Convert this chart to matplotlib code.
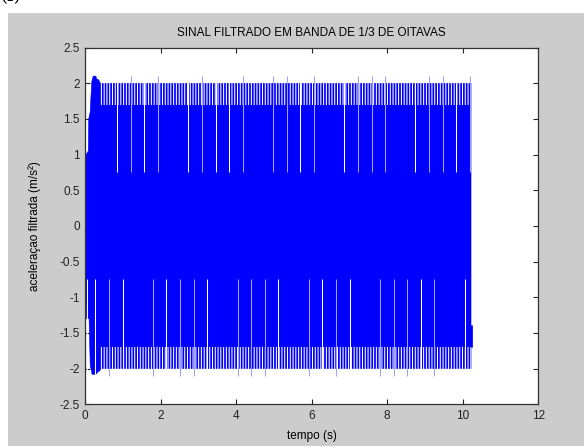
import numpy as np
import matplotlib
matplotlib.use('Agg')
import matplotlib.pyplot as plt
from matplotlib.patches import Rectangle

# ---------------- data ----------------
# upper / lower envelope of the filtered signal (time s, acceleration m/s²)
up_t = [0.00, 0.02, 0.08, 0.09, 0.13, 0.17, 0.21, 0.28, 0.30, 0.35, 0.40, 10.22, 10.22, 10.265]
up_v = [0.35, 1.00, 1.05, 1.50, 1.60, 2.02, 2.10, 2.10, 2.06, 2.05, 2.00, 2.00, -1.40, -1.40]
low_t = [0.00, 0.03, 0.10, 0.13, 0.18, 0.28, 0.33, 0.38, 0.42, 10.22, 10.22, 10.265]
low_v = [-0.75, -1.30, -1.30, -1.95, -2.08, -2.08, -2.05, -2.03, -2.00, -2.00, -1.70, -1.70]

# band where the peaks only partly reach the envelope (comb of peaks)
comb_t = [0.40, 10.22]
comb_top = [1.70, 2.00]
comb_bot = [-2.00, -1.70]

# columns where the positive peaks are missing (signal reaches only 0.75)
top_gap_white = [0.848, 1.563, 2.729, 3.455, 3.808, 5.697, 6.863, 8.744, 9.830]
top_gap_light = [1.203, 1.926, 3.092, 4.171, 4.974, 5.345, 6.060, 7.226, 7.589,
                 7.941, 9.107, 9.470, 10.193]
top_gap_level = 0.75
# columns where the negative peaks are missing (signal reaches only -0.75)
bot_gap_white = [0.045, 0.265, 0.991, 2.146, 3.233, 5.119, 6.280, 7.006, 8.887, 10.053]
bot_gap_light = [0.628, 1.786, 2.509, 2.872, 4.038, 4.391, 4.754, 5.928, 6.644,
                 7.810, 8.172, 8.525, 9.248]
bot_gap_level = -0.75

x_ticks = [0, 2, 4, 6, 8, 10, 12]
y_ticks = [-2.5, -2, -1.5, -1, -0.5, 0, 0.5, 1, 1.5, 2, 2.5]
y_tick_labels = ['-2.5', '-2', '-1.5', '-1', '-0.5', '0', '0.5', '1', '1.5', '2', '2.5']

title = 'SINAL FILTRADO EM BANDA DE 1/3 DE OITAVAS'
xlabel = 'tempo (s)'
ylabel = 'aceleraçao filtrada (m/s²)'

# ---------------- figure ----------------
W, H = 584, 446
plt.rcParams['font.family'] = ['Liberation Sans', 'DejaVu Sans']
plt.rcParams['hatch.color'] = 'white'
plt.rcParams['hatch.linewidth'] = 0.75

fig = plt.figure(figsize=(W / 100, H / 100), dpi=100, facecolor='white')
fig.add_artist(Rectangle((8 / W, 0), 1, (H - 13) / H, transform=fig.transFigure,
                         facecolor='#cccccc', edgecolor='none', zorder=-5))
fig.text(1 / W, 1 - 1 / H, '(f)', family='DejaVu Serif', fontsize=13,
         va='baseline', ha='left', color='black')

L, R, T, B = 85.3, 538.2, 47.6, 404.3
ax = fig.add_axes([L / W, 1 - B / H, (R - L) / W, (B - T) / H])
ax.set_facecolor('white')

blue = '#0000ff'
ax.fill(np.r_[up_t, low_t[::-1]], np.r_[up_v, low_v[::-1]],
        facecolor=blue, edgecolor=blue, linewidth=0.4, zorder=2)

ax.fill_between(comb_t, comb_top[0], comb_top[1], facecolor='none',
                edgecolor='white', hatch='|' * 6, linewidth=0, zorder=3)
ax.fill_between(comb_t, comb_bot[0], comb_bot[1], facecolor='none',
                edgecolor='white', hatch='|' * 6, linewidth=0, zorder=3)

top_max = max(comb_top) + 0.1
ax.vlines(top_gap_white, top_gap_level, top_max, colors='white', linewidth=0.75, zorder=4)
ax.vlines(top_gap_light, top_gap_level, top_max, colors='#a0a0ff', linewidth=0.75, zorder=4)
bot_min = min(comb_bot) - 0.1
ax.vlines(bot_gap_white, bot_min, bot_gap_level, colors='white', linewidth=0.75, zorder=4)
ax.vlines(bot_gap_light, bot_min, bot_gap_level, colors='#a0a0ff', linewidth=0.75, zorder=4)

ax.set_xlim(0, 12)
ax.set_ylim(-2.5, 2.5)
ax.set_xticks(x_ticks)
ax.set_xticklabels([str(v) for v in x_ticks])
ax.set_yticks(y_ticks)
ax.set_yticklabels(y_tick_labels)
ax.tick_params(direction='in', length=3.5, width=0.8, top=True, right=True,
               labelsize=8.5, pad=4, colors='#222222')
for s in ax.spines.values():
    s.set_color('#333333')
    s.set_linewidth(0.9)

ax.text(0.5, (B - 33) / (B - T), title, transform=ax.transAxes, ha='center',
        va='center', fontsize=8.5)
ax.set_xlabel(xlabel, fontsize=8.5)
ax.xaxis.set_label_coords(0.5, (B - 436) / (B - T))
ax.xaxis.label.set_va('center')
ax.set_ylabel(ylabel, fontsize=8.5)
ax.yaxis.set_label_coords((35 - L) / (R - L), 0.5)
ax.yaxis.label.set_va('center')

fig.savefig('out.png', dpi=100, facecolor=fig.get_facecolor())
